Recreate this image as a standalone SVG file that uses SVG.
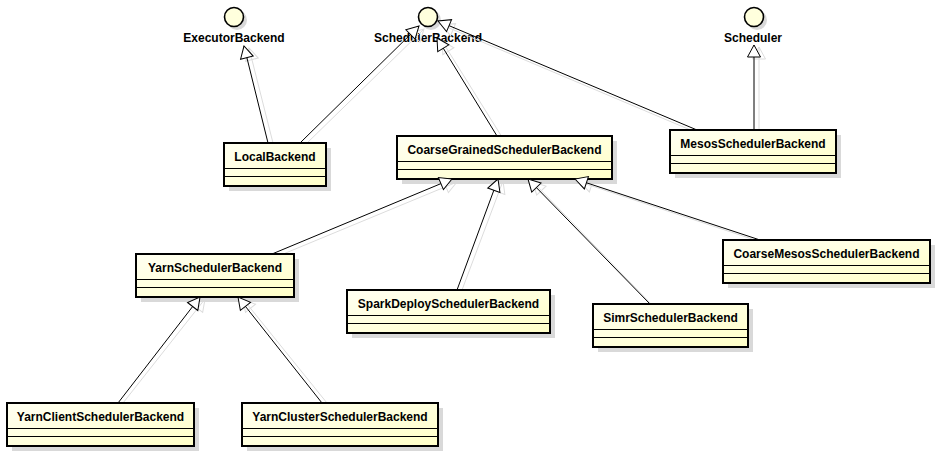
<svg xmlns="http://www.w3.org/2000/svg" width="939" height="461" viewBox="0 0 939 461">
<defs>
<linearGradient id="fill" x1="0" y1="0" x2="1" y2="1">
<stop offset="0" stop-color="#FFFFF2"/>
<stop offset="1" stop-color="#FFFFC8"/>
</linearGradient>
<marker id="tri" markerUnits="userSpaceOnUse" markerWidth="14" markerHeight="16" viewBox="-1 -1 14 16" refX="12" refY="7" orient="auto" overflow="visible">
<path d="M12,7 L0,0.5 L0,13.5 Z" fill="#fff" stroke="#000" stroke-width="1"/>
</marker>
<marker id="trish" markerUnits="userSpaceOnUse" markerWidth="14" markerHeight="16" viewBox="-1 -1 14 16" refX="12" refY="7" orient="auto" overflow="visible">
<path d="M12,7 L0,0.5 L0,13.5 Z" fill="none" stroke="#dcdcdc" stroke-width="1"/>
</marker>
</defs>
<style>
.sh{fill:#d9d9d9;stroke:none}
.box{fill:url(#fill);stroke:#000;stroke-width:2}
.sep{stroke:#000;stroke-width:1}
.t{font-family:"Liberation Sans",Arial,sans-serif;font-size:12px;font-weight:bold;fill:#000;text-anchor:middle}
.ic{fill:#FFFFDD;stroke:#000;stroke-width:1.6}
.ish{fill:#d9d9d9}
.c{stroke:#000;stroke-width:1;fill:none;marker-end:url(#tri)}
.cs{stroke:#dcdcdc;stroke-width:1;fill:none;marker-end:url(#trish)}
</style>

<g id="ExecutorBackend">
<circle class="ish" cx="237" cy="20" r="10"/>
<circle class="ic" cx="234" cy="17" r="9.5"/>
<text class="t" x="234" y="42">ExecutorBackend</text>
</g>
<g id="SchedulerBackend">
<circle class="ish" cx="431" cy="20" r="10"/>
<circle class="ic" cx="428" cy="17" r="9.5"/>
<text class="t" x="428" y="42">SchedulerBackend</text>
</g>
<g id="Scheduler">
<circle class="ish" cx="757" cy="20" r="10"/>
<circle class="ic" cx="754" cy="17" r="9.5"/>
<text class="t" x="753" y="42">Scheduler</text>
</g>

<g id="connectors-shadow">
<line class="cs" x1="273" y1="143" x2="249" y2="48"/>
<line class="cs" x1="305" y1="145" x2="424" y2="29"/>
<line class="cs" x1="502" y1="137" x2="442" y2="41"/>
<line class="cs" x1="700" y1="134" x2="442" y2="25"/>
<line class="cs" x1="759" y1="130" x2="759" y2="47"/>
<line class="cs" x1="276" y1="257" x2="457" y2="182"/>
<line class="cs" x1="462" y1="290" x2="503" y2="181"/>
<line class="cs" x1="654" y1="307" x2="533" y2="182"/>
<line class="cs" x1="764" y1="243" x2="580" y2="182"/>
<line class="cs" x1="123" y1="403" x2="205" y2="299"/>
<line class="cs" x1="327" y1="403" x2="243" y2="299"/>
</g>

<g id="LocalBackend">
<rect class="sh" x="229" y="148" width="102" height="43"/>
<rect class="box" x="224" y="143" width="102" height="43"/>
<line class="sep" x1="224" y1="168.5" x2="326" y2="168.5"/>
<line class="sep" x1="224" y1="176.5" x2="326" y2="176.5"/>
<text class="t" x="275" y="161">LocalBackend</text>
</g>
<g id="CoarseGrainedSchedulerBackend">
<rect class="sh" x="402" y="141" width="215" height="43"/>
<rect class="box" x="397" y="136" width="215" height="43"/>
<line class="sep" x1="397" y1="161.5" x2="612" y2="161.5"/>
<line class="sep" x1="397" y1="169.5" x2="612" y2="169.5"/>
<text class="t" x="504.5" y="154">CoarseGrainedSchedulerBackend</text>
</g>
<g id="MesosSchedulerBackend">
<rect class="sh" x="675" y="135" width="166" height="43"/>
<rect class="box" x="670" y="130" width="166" height="43"/>
<line class="sep" x1="670" y1="155.5" x2="836" y2="155.5"/>
<line class="sep" x1="670" y1="163.5" x2="836" y2="163.5"/>
<text class="t" x="753" y="148">MesosSchedulerBackend</text>
</g>
<g id="YarnSchedulerBackend">
<rect class="sh" x="141" y="259" width="158" height="43"/>
<rect class="box" x="136" y="254" width="158" height="43"/>
<line class="sep" x1="136" y1="279.5" x2="294" y2="279.5"/>
<line class="sep" x1="136" y1="287.5" x2="294" y2="287.5"/>
<text class="t" x="215" y="272">YarnSchedulerBackend</text>
</g>
<g id="SparkDeploySchedulerBackend">
<rect class="sh" x="352" y="295" width="203" height="43"/>
<rect class="box" x="347" y="290" width="203" height="43"/>
<line class="sep" x1="347" y1="315.5" x2="550" y2="315.5"/>
<line class="sep" x1="347" y1="323.5" x2="550" y2="323.5"/>
<text class="t" x="448.5" y="308">SparkDeploySchedulerBackend</text>
</g>
<g id="SimrSchedulerBackend">
<rect class="sh" x="598" y="309" width="155" height="43"/>
<rect class="box" x="593" y="304" width="155" height="43"/>
<line class="sep" x1="593" y1="329.5" x2="748" y2="329.5"/>
<line class="sep" x1="593" y1="337.5" x2="748" y2="337.5"/>
<text class="t" x="670.5" y="322">SimrSchedulerBackend</text>
</g>
<g id="CoarseMesosSchedulerBackend">
<rect class="sh" x="728" y="245" width="207" height="43"/>
<rect class="box" x="723" y="240" width="207" height="43"/>
<line class="sep" x1="723" y1="265.5" x2="930" y2="265.5"/>
<line class="sep" x1="723" y1="273.5" x2="930" y2="273.5"/>
<text class="t" x="826.5" y="258">CoarseMesosSchedulerBackend</text>
</g>
<g id="YarnClientSchedulerBackend">
<rect class="sh" x="12" y="408" width="187" height="43"/>
<rect class="box" x="7" y="403" width="187" height="43"/>
<line class="sep" x1="7" y1="428.5" x2="194" y2="428.5"/>
<line class="sep" x1="7" y1="436.5" x2="194" y2="436.5"/>
<text class="t" x="100.5" y="421">YarnClientSchedulerBackend</text>
</g>
<g id="YarnClusterSchedulerBackend">
<rect class="sh" x="247" y="408" width="196" height="43"/>
<rect class="box" x="242" y="403" width="196" height="43"/>
<line class="sep" x1="242" y1="428.5" x2="438" y2="428.5"/>
<line class="sep" x1="242" y1="436.5" x2="438" y2="436.5"/>
<text class="t" x="340" y="421">YarnClusterSchedulerBackend</text>
</g>

<g id="connectors">
<line class="c" x1="268" y1="143" x2="244" y2="46"/>
<line class="c" x1="300" y1="143" x2="419" y2="26"/>
<line class="c" x1="497" y1="136" x2="437" y2="38"/>
<line class="c" x1="697" y1="130" x2="438" y2="21"/>
<line class="c" x1="754" y1="130" x2="754" y2="45"/>
<line class="c" x1="272" y1="254" x2="452" y2="179"/>
<line class="c" x1="457" y1="290" x2="498" y2="179"/>
<line class="c" x1="650" y1="304" x2="528" y2="179"/>
<line class="c" x1="760" y1="240" x2="575" y2="179"/>
<line class="c" x1="118" y1="403" x2="200" y2="297"/>
<line class="c" x1="322" y1="403" x2="238" y2="297"/>
</g>
</svg>
